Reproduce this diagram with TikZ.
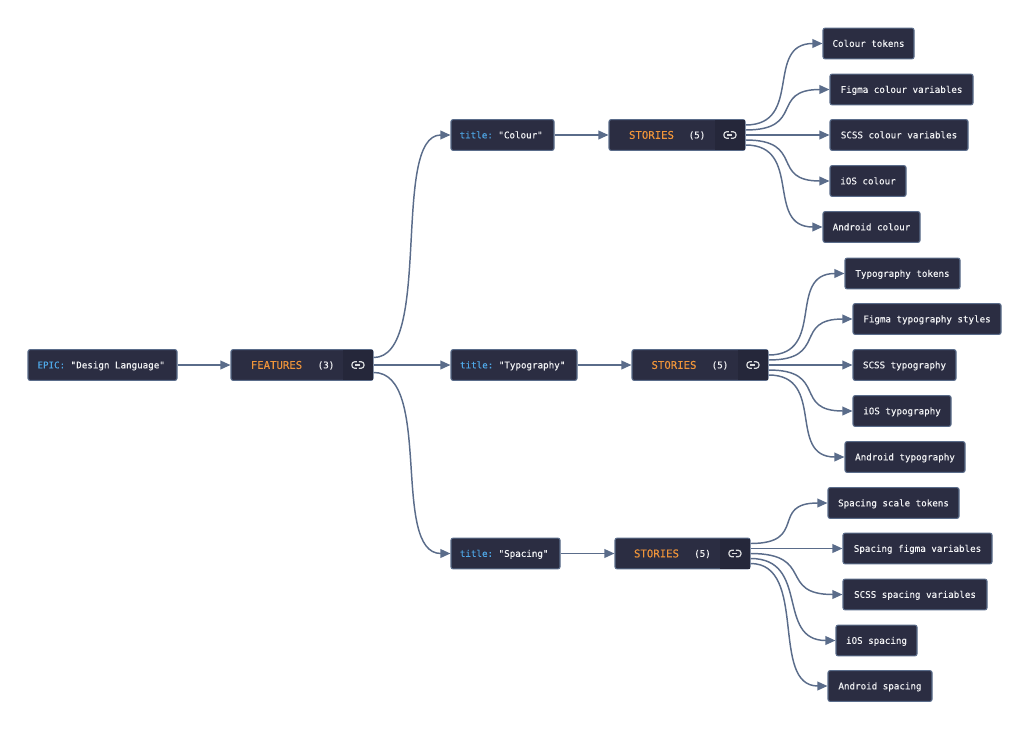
\documentclass[tikz,border=0pt]{standalone}
\usepackage{fontspec}
\setmonofont[FakeBold=0.25]{DejaVu Sans Mono}
\usetikzlibrary{arrows.meta}
\definecolor{boxfill}{HTML}{2B2D42}
\definecolor{cellfill}{HTML}{25273A}
\definecolor{edgeblue}{HTML}{5A6C8A}
\definecolor{wordorange}{HTML}{F0953A}
\definecolor{keyblue}{HTML}{4FA8E8}
\definecolor{paletext}{HTML}{F2F3F5}
\tikzset{
  boxnode/.style={draw=edgeblue,line width=0.8pt,fill=boxfill,rounded corners=1.5pt,inner sep=0pt,minimum height=23pt,text height=5pt,text depth=0pt,text=paletext,font=\ttfamily\fontsize{6.9}{8}\selectfont},
  boxw/.style={minimum width=#1*0.75pt},
  cellnode/.style={draw=cellfill,fill=cellfill,inner sep=0pt,minimum height=21.8pt,minimum width=22pt,anchor=east,xshift=-0.5pt},
  wordnode/.style={inner sep=0pt,text height=5.8pt,text depth=0pt,text=wordorange,font=\ttfamily\fontsize{8}{9}\selectfont},
  countnode/.style={inner sep=0pt,text height=5pt,text depth=0pt,text=paletext,font=\ttfamily\fontsize{6.9}{8}\selectfont},
  linkline/.style={draw=edgeblue,line width=1.1pt,-{Triangle[length=7.5pt,width=6.5pt]}},
  curved/.style={out=0,in=180,out distance=#1*0.75pt,in distance=#1*0.75pt},
  linkicon/.pic={
    \draw[paletext!90!black,line width=0.9pt,rounded corners=2pt] (-1,-3.2) -- (-6,-3.2) -- (-6,3.2) -- (-1,3.2);
    \draw[paletext!90!black,line width=0.9pt,rounded corners=2pt] (1,-3.2) -- (6,-3.2) -- (6,3.2) -- (1,3.2);
    \draw[paletext!90!black,line width=0.9pt] (-2.5,0) -- (2.5,0);
  }
}
\newcommand{\keyword}[2]{{\color{keyblue}#1} #2\kern2pt}
\begin{document}
\begin{tikzpicture}[x=0.75pt,y=-0.75pt]
\useasboundingbox (0,0) rectangle (1030,731);

% Root
\node[boxnode,boxw=149] (epic) at (102.5,365) {\keyword{EPIC:}{"Design Language"}};
\node[boxnode,boxw=142] (features) at (302,365) {};
\node[wordnode] (featuresword) at (276.5,365) {FEATURES};
\node[countnode] (featurescount) at (326,365) {(3)};
\node[cellnode] (featurescell) at (features.east) {};
\pic at (featurescell.center) {linkicon};

% Titles
\node[boxnode,boxw=103] (colour) at (502.5,135) {\keyword{title:}{"Colour"}};
\node[boxnode,boxw=126] (typography) at (514,365) {\keyword{title:}{"Typography"}};
\node[boxnode,boxw=109] (spacing) at (505.5,553.5) {\keyword{title:}{"Spacing"}};

% Stories
\node[boxnode,boxw=136] (storiesa) at (677,135) {};
\node[wordnode] (storiesaword) at (651.5,135) {STORIES};
\node[countnode] (storiesacount) at (697,135) {(5)};
\node[cellnode] (storiesacell) at (storiesa.east) {};
\pic at (storiesacell.center) {linkicon};

\node[boxnode,boxw=136] (storiesb) at (700,365) {};
\node[wordnode] (storiesbword) at (674,365) {STORIES};
\node[countnode] (storiesbcount) at (720,365) {(5)};
\node[cellnode] (storiesbcell) at (storiesb.east) {};
\pic at (storiesbcell.center) {linkicon};

\node[boxnode,boxw=135] (storiesc) at (682.5,553.5) {};
\node[wordnode] (storiescword) at (656.5,553.5) {STORIES};
\node[countnode] (storiesccount) at (702.5,553.5) {(5)};
\node[cellnode] (storiesccell) at (storiesc.east) {};
\pic at (storiesccell.center) {linkicon};

% Colour stories
\node[boxnode,boxw=91] (colourtokens) at (868.5,43.5) {Colour tokens};
\node[boxnode,boxw=143] (colourfigma) at (901.5,89.5) {Figma colour variables};
\node[boxnode,boxw=138] (colourscss) at (899,135) {SCSS colour variables};
\node[boxnode,boxw=76] (colourios) at (868,181) {iOS colour};
\node[boxnode,boxw=97] (colourandroid) at (871.5,227) {Android colour};

% Typography stories
\node[boxnode,boxw=115] (typetokens) at (902.5,273.5) {Typography tokens};
\node[boxnode,boxw=148] (typefigma) at (927,319) {Figma typography styles};
\node[boxnode,boxw=103] (typescss) at (904.5,365) {SCSS typography};
\node[boxnode,boxw=98] (typeios) at (902,411) {iOS typography};
\node[boxnode,boxw=120] (typeandroid) at (905,457) {Android typography};

% Spacing stories
\node[boxnode,boxw=131] (spacetokens) at (893.5,503) {Spacing scale tokens};
\node[boxnode,boxw=149] (spacefigma) at (917.5,548.5) {Spacing figma variables};
\node[boxnode,boxw=144] (spacescss) at (915,594.5) {SCSS spacing variables};
\node[boxnode,boxw=81] (spaceios) at (876.5,640.5) {iOS spacing};
\node[boxnode,boxw=104] (spaceandroid) at (880,686) {Android spacing};

% Connectors
\draw[linkline] (epic) -- (features);
\draw[linkline] ([yshift=5.6pt]features.east) to[curved=60] (colour.west);
\draw[linkline] (features) -- (typography);
\draw[linkline] ([yshift=-5.6pt]features.east) to[curved=60] (spacing.west);

\draw[linkline] (colour) -- (storiesa);
\draw[linkline] (typography) -- (storiesb);
\draw[linkline] (spacing) -- (storiesc);

\draw[linkline] ([yshift=7.5pt]storiesa.east) to[curved=58] (colourtokens.west);
\draw[linkline] ([yshift=3.75pt]storiesa.east) to[curved=60] (colourfigma.west);
\draw[linkline] (storiesa) -- (colourscss);
\draw[linkline] ([yshift=-3.75pt]storiesa.east) to[curved=60] (colourios.west);
\draw[linkline] ([yshift=-7.5pt]storiesa.east) to[curved=58] (colourandroid.west);

\draw[linkline] ([yshift=7.5pt]storiesb.east) to[curved=58] (typetokens.west);
\draw[linkline] ([yshift=3.75pt]storiesb.east) to[curved=60] (typefigma.west);
\draw[linkline] (storiesb) -- (typescss);
\draw[linkline] ([yshift=-3.75pt]storiesb.east) to[curved=60] (typeios.west);
\draw[linkline] ([yshift=-7.5pt]storiesb.east) to[curved=58] (typeandroid.west);

\draw[linkline] ([yshift=7.5pt]storiesc.east) to[curved=58] (spacetokens.west);
\draw[linkline] ([yshift=3.75pt]storiesc.east) -- (spacefigma.west);
\draw[linkline] (storiesc) to[curved=65] (spacescss.west);
\draw[linkline] ([yshift=-3.75pt]storiesc.east) to[curved=60] (spaceios.west);
\draw[linkline] ([yshift=-7.5pt]storiesc.east) to[curved=58] (spaceandroid.west);

\end{tikzpicture}
\end{document}
